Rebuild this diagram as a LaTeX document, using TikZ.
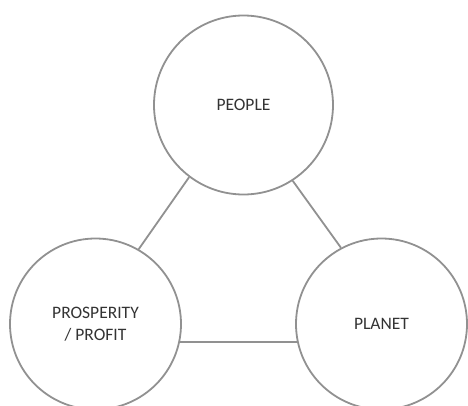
\documentclass[tikz,border=0pt]{standalone}
\usepackage{fontspec}
\setmainfont{Carlito}
\definecolor{ringgray}{RGB}{145,145,145}
\usetikzlibrary{calc,positioning}
\tikzset{
	pillar/.style={
		circle,
		draw=ringgray, line width=1.8pt,
		fill=white,
		inner sep=0pt,
		text=black!80,
		align=center,
		font=\fontsize{17.5}{22}\selectfont},
	link/.style={draw=ringgray, line width=1.8pt},
}

\begin{document}
\begin{tikzpicture}
[x=1pt, y=-1pt]
\useasboundingbox (0,0) rectangle (468,405);
\node[pillar, minimum size=179pt] (people) at (243.5,105) {PEOPLE};
\node[pillar, minimum size=171pt] (profit) at (95.5,324) {PROSPERITY\\/ PROFIT};
\node[pillar, minimum size=171pt] (planet) at (381.5,324) {PLANET};
\draw[link] (people.233) -- (profit.60);
\draw[link] (people.303) -- (planet.118);
\draw[link] (profit.-12) -- (planet.192);
\end{tikzpicture}
\end{document}
